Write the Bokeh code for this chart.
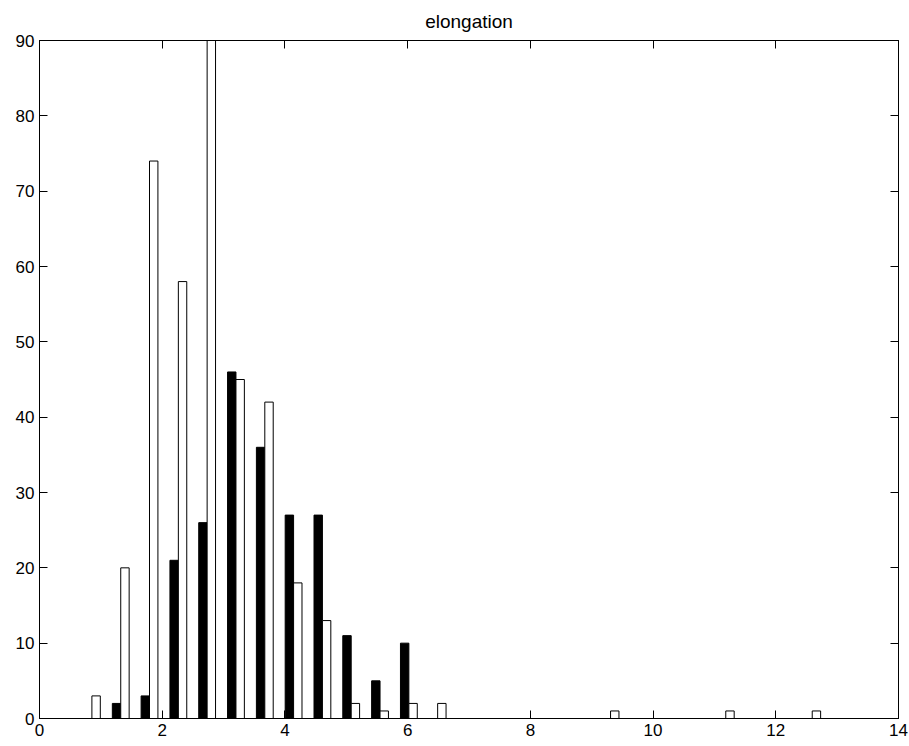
from bokeh.plotting import figure
from bokeh.models import ColumnDataSource, LinearAxis, FixedTicker, Range1d
from bokeh.transform import dodge
from bokeh.embed import file_html
from bokeh.resources import INLINE

# bin centres (histogram bins shared by both series)
bin_centers = [0.854, 1.324, 1.793, 2.263, 2.732, 3.202, 3.672, 4.141, 4.611,
               5.080, 5.550, 6.020, 6.489, 6.959, 7.428, 7.898, 8.368, 8.837,
               9.307, 9.776, 10.246, 10.716, 11.185, 11.655, 12.124, 12.594]
# counts, black series
black_counts = [0, 2, 3, 21, 26, 46, 36, 27, 27, 11, 5, 10, 0, 0, 0, 0, 0, 0,
                0, 0, 0, 0, 0, 0, 0, 0]
# counts, white series (bin 4 exceeds the axis top)
white_counts = [3, 20, 74, 58, 96, 45, 42, 18, 13, 2, 1, 2, 2, 0, 0, 0, 0, 0,
                1, 0, 0, 0, 1, 0, 0, 1]

x_ticks = [0, 2, 4, 6, 8, 10, 12, 14]
y_ticks = [0, 10, 20, 30, 40, 50, 60, 70, 80, 90]

FONT = "Liberation Sans"
BAR_W = 0.137

src = ColumnDataSource(dict(c=bin_centers, b=black_counts, w=white_counts))

p = figure(width=909, height=746, output_backend="svg", toolbar_location=None,
           x_range=Range1d(0, 14), y_range=Range1d(0, 90),
           title="elongation", min_border_left=39, min_border_right=11,
           min_border_bottom=28, min_border_top=40)

p.vbar(x=dodge("c", -BAR_W / 2, range=p.x_range), top="b", width=BAR_W, bottom=0,
       source=src, fill_color="black", line_color="black", line_width=1)
p.vbar(x=dodge("c", BAR_W / 2, range=p.x_range), top="w", width=BAR_W, bottom=0,
       source=src, fill_color="white", line_color="black", line_width=1)

p.title.align = "center"
p.title.text_font = FONT
p.title.text_font_size = "19px"
p.title.text_font_style = "normal"
p.title.text_color = "black"
p.title.standoff = 17

p.grid.visible = False
p.outline_line_color = "black"
p.outline_line_width = 1
p.background_fill_color = "white"
p.border_fill_color = "white"

def style(ax, ticks, labels=True):
    ax.ticker = FixedTicker(ticks=ticks)
    ax.major_tick_in = 8
    ax.major_tick_out = 0
    ax.minor_tick_line_color = None
    ax.axis_line_color = "black"
    ax.major_tick_line_color = "black"
    ax.major_label_text_font = FONT
    if labels:
        ax.major_label_text_color = "black"
        ax.major_label_text_font_size = "17px"
        ax.major_label_standoff = 5
    else:
        ax.major_label_text_color = None
        ax.major_label_standoff = 0

style(p.xaxis[0], x_ticks)
style(p.yaxis[0], y_ticks)

top_ax = LinearAxis()
right_ax = LinearAxis()
style(top_ax, x_ticks, labels=False)
style(right_ax, y_ticks, labels=False)
p.add_layout(top_ax, "above")
p.add_layout(right_ax, "right")

open("out.html", "w").write(file_html(p, INLINE))
